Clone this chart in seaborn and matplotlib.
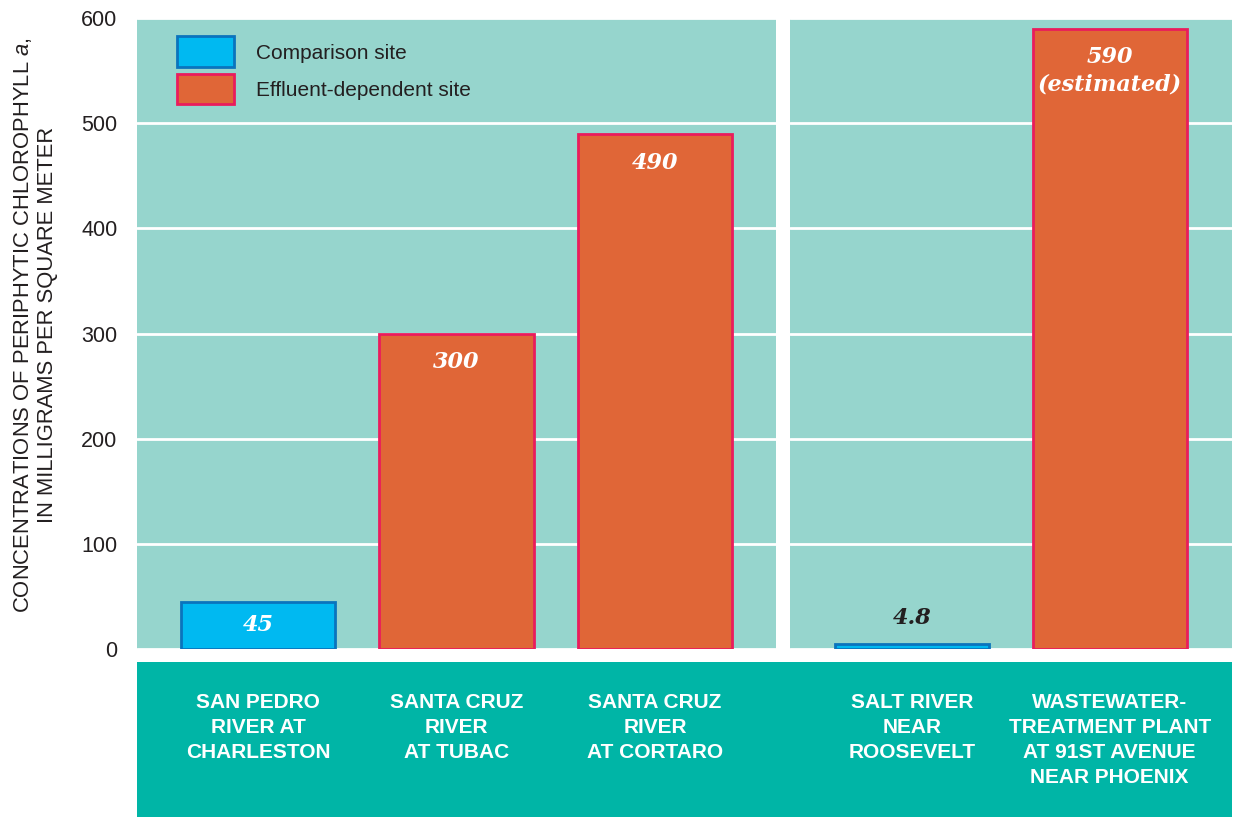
import pandas as pd
import numpy as np
import matplotlib
matplotlib.use('Agg')
import matplotlib.pyplot as plt
import seaborn as sns
from matplotlib.patches import Patch, Rectangle

# data
left_sites = ['SAN PEDRO\nRIVER AT\nCHARLESTON', 'SANTA CRUZ\nRIVER\nAT TUBAC', 'SANTA CRUZ\nRIVER\nAT CORTARO']
left_values = [45, 300, 490]
left_types = ['Comparison site', 'Effluent-dependent site', 'Effluent-dependent site']

right_sites = ['SALT RIVER\nNEAR\nROOSEVELT', 'WASTEWATER-\nTREATMENT PLANT\nAT 91ST AVENUE\nNEAR PHOENIX']
right_values = [4.8, 590]
right_types = ['Comparison site', 'Effluent-dependent site']

value_labels_left = ['45', '300', '490']
value_labels_right = ['4.8', '590\n(estimated)']
yticks = [0, 100, 200, 300, 400, 500, 600]

fill = {'Comparison site': '#00b9f1', 'Effluent-dependent site': '#e06637'}
edge = {'Comparison site': '#0a74bd', 'Effluent-dependent site': '#ea1c5c'}
panel_bg = '#96d5cd'
band = '#00b5a6'
text_dark = '#231f20'

sns.set_theme(style='white')
plt.rcParams['font.family'] = ['Liberation Sans', 'DejaVu Sans']
plt.rcParams['mathtext.fontset'] = 'custom'
plt.rcParams['mathtext.it'] = 'Liberation Sans:italic'
plt.rcParams['mathtext.rm'] = 'Liberation Sans'

fig = plt.figure(figsize=(12.36, 8.17), dpi=100)
fig.patch.set_facecolor('white')
W, H = 1236, 817
ax1 = fig.add_axes([137 / W, (H - 649) / H, 639 / W, 631 / H])
ax2 = fig.add_axes([790 / W, (H - 649) / H, 442 / W, 631 / H])

# teal band behind the site names
fig.patches.append(Rectangle((137 / W, 0), (1232 - 137) / W, (817 - 662) / H,
                             transform=fig.transFigure, facecolor=band, edgecolor='none', zorder=-1))


def draw_panel(ax, sites, values, types, labels, pad_lo):
    df = pd.DataFrame({'site': sites, 'value': values, 'type': types})
    sns.barplot(data=df, x='site', y='value', hue='type', palette=fill, dodge=False,
                width=0.78, saturation=1, ax=ax, legend=False, zorder=3)
    # set edges per bar according to its type
    bars = sorted(ax.patches, key=lambda p: p.get_x())
    for bar, t in zip(bars, types):
        bar.set_edgecolor(edge[t])
        bar.set_linewidth(2)
    ax.set_facecolor(panel_bg)
    ax.set_ylim(0, 600)
    ax.set_xlim(-pad_lo, len(sites) - 1 + pad_lo)
    ax.set_yticks(yticks)
    ax.grid(axis='y', color='white', linewidth=2, zorder=1)
    ax.grid(axis='x', visible=False)
    ax.set_axisbelow(True)
    for s in ax.spines.values():
        s.set_visible(False)
    ax.set_xlabel('')
    ax.tick_params(axis='x', length=0, pad=32, labelsize=15, labelcolor='white')
    for lab in ax.get_xticklabels():
        lab.set_fontweight('bold')
        lab.set_linespacing(1.4)
        lab.set_verticalalignment('top')
    for i, (v, lab, t) in enumerate(zip(values, labels, types)):
        if v > 60:
            y, c = v - 17, 'white'
            va = 'top'
        elif v > 30:
            y, c, va = v / 2, 'white', 'center'
        else:
            y, c, va = v + 25, text_dark, 'center'
        ax.text(i, y, lab, ha='center', va=va, color=c, fontsize=16,
                family='DejaVu Serif', fontweight='bold', fontstyle='italic',
                linespacing=1.3, zorder=5)


draw_panel(ax1, left_sites, left_values, left_types, value_labels_left, 0.61)
draw_panel(ax2, right_sites, right_values, right_types, value_labels_right, 0.62)

ax1.tick_params(axis='y', length=0, pad=14, labelsize=15.5, labelcolor=text_dark)
ax1.set_ylabel('CONCENTRATIONS OF PERIPHYTIC CHLOROPHYLL $a$,\nIN MILLIGRAMS PER SQUARE METER',
               fontsize=15.8, color=text_dark, labelpad=17, linespacing=1.15)
ax1.yaxis.label.set_y(0.513)
ax2.set_ylabel('')
ax2.tick_params(axis='y', length=0, labelleft=False)

handles = [Patch(facecolor=fill[k], edgecolor=edge[k], linewidth=2, label=k) for k in fill]
ax1.legend(handles=handles, loc='upper left', bbox_to_anchor=(0.05, 0.984), frameon=False,
           fontsize=15, handlelength=2.7, handleheight=1.9, labelspacing=0.3,
           handletextpad=1.1, borderaxespad=0, labelcolor=text_dark)

fig.savefig('out.png', dpi=100)
